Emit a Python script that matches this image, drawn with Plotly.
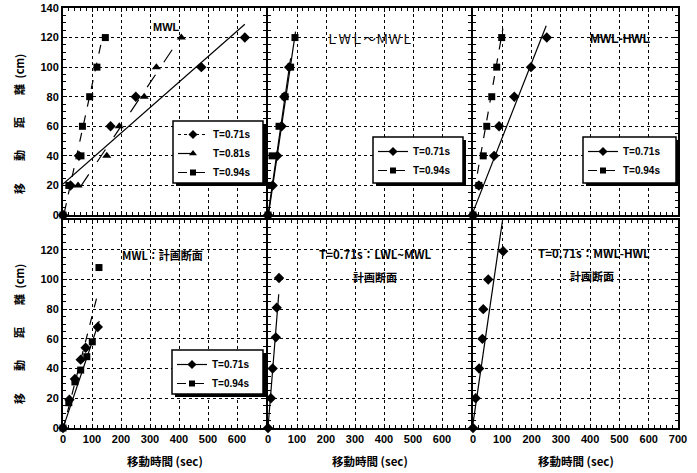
import plotly.graph_objects as go

# ---------------- data ----------------
# Panel 1 : MWL
p1_t071_x = [0, 26, 55, 164, 251, 477, 627]
p1_t071_y = [0, 20, 40, 60, 80, 100, 120]
p1_t081_x = [0, 52, 151, 194, 280, 322, 408]
p1_t081_y = [0, 20, 40, 60, 80, 100, 120]
p1_t094_x = [0, 20, 62, 67, 92, 117, 146]
p1_t094_y = [0, 20, 40, 60, 80, 100, 120]
p1_fit071_x, p1_fit071_y = [0, 627], [21, 129]
p1_fit081_x, p1_fit081_y = [60, 408], [19, 121]
p1_fit094_x, p1_fit094_y = [5, 138], [2, 122]

# Panel 2 : LWL~MWL
p2_t071_x = [0, 16, 32, 47, 56, 73]
p2_t071_y = [0, 20, 40, 60, 80, 100]
p2_t094_x = [0, 6, 14, 38, 59, 78, 93]
p2_t094_y = [0, 20, 40, 60, 80, 100, 120]
p2_fit071_x, p2_fit071_y = [0, 78], [0, 106]
p2_fit094_x, p2_fit094_y = [0, 95], [-2, 124]

# Panel 3 : MWL-HWL
p3_t071_x = [0, 20, 72, 89, 141, 198, 252]
p3_t071_y = [0, 20, 40, 60, 80, 100, 120]
p3_t094_x = [0, 20, 35, 47, 64, 81, 98]
p3_t094_y = [0, 20, 40, 60, 80, 100, 120]
p3_fit071_x, p3_fit071_y = [0, 250], [2, 128]
p3_fit094_x, p3_fit094_y = [15, 102], [28, 126]

# Panel 4 : MWL 計画断面
p4_t071_x = [0, 22, 41, 61, 78, 120]
p4_t071_y = [0, 19, 33, 46, 54, 68]
p4_t094_x = [0, 20, 41, 61, 82, 101, 124]
p4_t094_y = [0, 17, 31, 39, 48, 58, 108]
p4_fit071_x, p4_fit071_y = [0, 125], [0, 72]
p4_fit094_x, p4_fit094_y = [0, 122], [-1, 92]

# Panel 5 : T=0.71s LWL~MWL 計画断面
p5_t071_x = [0, 10, 16, 27, 30, 38]
p5_t071_y = [0, 20, 40, 61, 81, 101]
p5_fit071_x, p5_fit071_y = [0, 37], [0, 90]

# Panel 6 : T=0.71s MWL-HWL 計画断面
p6_t071_x = [0, 9, 21, 32, 35, 52, 103]
p6_t071_y = [0, 20, 40, 60, 80, 100, 119]
p6_fit071_x, p6_fit071_y = [0, 101], [3, 140]

x_ticks_a = [0, 100, 200, 300, 400, 500, 600]
x_ticks_b = [0, 100, 200, 300, 400, 500, 600, 700]
y_ticks_top = [0, 20, 40, 60, 80, 100, 120, 140]
y_ticks_bot = [0, 20, 40, 60, 80, 100, 120]

# ---------------- layout helpers ----------------
W, H = 697, 473
L, R, T, B = 63, 19, 8, 45
PW, PH = W - L - R, H - T - B


def px(xp):
    return (xp - L) / PW


def py(yp):
    return (H - B - yp) / PH


cols = [(63, 266), (268, 471), (473, 678)]
rows = [(8, 215), (220, 428)]

FONT = "Liberation Sans"
JFONT = "Noto Sans CJK JP"

fig = go.Figure()

S071 = "diamond"
S081 = "triangle-up"
S094 = "square"


def add_pts(i, x, y, sym, size):
    fig.add_trace(go.Scatter(x=x, y=y, mode="markers", xaxis=f"x{i}", yaxis=f"y{i}",
                             marker=dict(symbol=sym, size=size, color="black"),
                             cliponaxis=False, showlegend=False, hoverinfo="skip"))


def add_fit(i, x, y, dash):
    fig.add_trace(go.Scatter(x=x, y=y, mode="lines", xaxis=f"x{i}", yaxis=f"y{i}",
                             line=dict(color="black", width=1.2, dash=dash),
                             showlegend=False, hoverinfo="skip"))


def add_leg(i, name, sym, size, dash, legend):
    fig.add_trace(go.Scatter(x=[None], y=[None], mode="lines+markers", xaxis=f"x{i}", yaxis=f"y{i}",
                             name=name, legend=legend,
                             marker=dict(symbol=sym, size=size, color="black"),
                             line=dict(color="black", width=1.2, dash=dash)))


# panel 1
add_fit(1, p1_fit071_x, p1_fit071_y, "solid")
add_fit(1, p1_fit081_x, p1_fit081_y, "longdash")
add_fit(1, p1_fit094_x, p1_fit094_y, "dash")
add_pts(1, p1_t071_x, p1_t071_y, S071, 8)
add_pts(1, p1_t081_x, p1_t081_y, S081, 8)
add_pts(1, p1_t094_x, p1_t094_y, S094, 7)
add_leg(1, "T=0.71s", S071, 7, "dot", "legend")
add_leg(1, "T=0.81s", S081, 7, "longdash", "legend")
add_leg(1, "T=0.94s", S094, 6, "dash", "legend")

# panel 2
add_fit(2, p2_fit071_x, p2_fit071_y, "solid")
add_fit(2, p2_fit094_x, p2_fit094_y, "solid")
add_pts(2, p2_t071_x, p2_t071_y, S071, 8)
add_pts(2, p2_t094_x, p2_t094_y, S094, 7)
add_leg(2, "T=0.71s", S071, 7, "solid", "legend2")
add_leg(2, "T=0.94s", S094, 6, "dash", "legend2")

# panel 3
add_fit(3, p3_fit071_x, p3_fit071_y, "solid")
add_fit(3, p3_fit094_x, p3_fit094_y, "dash")
add_pts(3, p3_t071_x, p3_t071_y, S071, 8)
add_pts(3, p3_t094_x, p3_t094_y, S094, 7)
add_leg(3, "T=0.71s", S071, 7, "solid", "legend3")
add_leg(3, "T=0.94s", S094, 6, "dash", "legend3")

# panel 4
add_fit(4, p4_fit071_x, p4_fit071_y, "solid")
add_fit(4, p4_fit094_x, p4_fit094_y, "dash")
add_pts(4, p4_t071_x, p4_t071_y, S071, 8)
add_pts(4, p4_t094_x, p4_t094_y, S094, 7)
add_leg(4, "T=0.71s", S071, 7, "solid", "legend4")
add_leg(4, "T=0.94s", S094, 6, "dash", "legend4")

# panel 5
add_fit(5, p5_fit071_x, p5_fit071_y, "solid")
add_pts(5, p5_t071_x, p5_t071_y, S071, 8)

# panel 6
add_fit(6, p6_fit071_x, p6_fit071_y, "solid")
add_pts(6, p6_t071_x, p6_t071_y, S071, 8)

axes = {}
tickfont = dict(family=FONT, size=11, color="black", weight="bold")
for r in range(2):
    for c in range(3):
        i = r * 3 + c + 1
        xd = [px(cols[c][0]), px(cols[c][1])]
        yd = [py(rows[r][1]), py(rows[r][0])]
        xt = x_ticks_b if c == 2 else x_ticks_a
        yt = y_ticks_top if r == 0 else y_ticks_bot
        sfx = "" if i == 1 else str(i)
        axes[f"xaxis{sfx}"] = dict(
            domain=xd, range=[0, 700], anchor=f"y{sfx}",
            tickvals=xt, showticklabels=(r == 1), tickfont=tickfont,
            showgrid=True, gridcolor="black", griddash="dot", gridwidth=1,
            showline=True, linecolor="black", linewidth=2, mirror="allticks",
            ticks="inside", ticklen=4, tickcolor="black", zeroline=False,
            minor=dict(dtick=20, ticks="inside", ticklen=3, tickcolor="black", showgrid=False),
            fixedrange=True)
        axes[f"yaxis{sfx}"] = dict(
            domain=yd, range=[0, 140], anchor=f"x{sfx}",
            tickvals=yt, showticklabels=(c == 0), tickfont=tickfont,
            showgrid=True, gridcolor="black", griddash="dot", gridwidth=1,
            showline=True, linecolor="black", linewidth=2, mirror="allticks",
            ticks="inside", ticklen=4, tickcolor="black", zeroline=False,
            minor=dict(dtick=5, ticks="inside", ticklen=3, tickcolor="black", showgrid=False),
            fixedrange=True)

legfont = dict(family=FONT, size=10, color="black", weight="bold")

# legend boxes (x0, y0, x1, y1) in pixels, and first-item centre y
legend_boxes = [(173, 121, 263, 183, 132), (373, 137, 463, 183, 149),
                (583, 137, 676, 183, 149), (172, 350, 263, 394, 362)]
LEG_OFF = 12


def leg(b):
    return dict(x=px(b[0]), y=py(b[4] - LEG_OFF), xanchor="left", yanchor="top",
                bgcolor="rgba(0,0,0,0)", borderwidth=0, font=legfont, itemwidth=30,
                tracegroupgap=0)


shapes = []
for (x0, y0, x1, y1, _) in legend_boxes:
    shapes.append(dict(type="rect", xref="paper", yref="paper",
                       x0=px(x0 + 3), x1=px(x1 + 3), y0=py(y1 + 3), y1=py(y0 + 3),
                       fillcolor="black", line=dict(width=0), layer="above"))
    shapes.append(dict(type="rect", xref="paper", yref="paper",
                       x0=px(x0), x1=px(x1), y0=py(y1), y1=py(y0),
                       fillcolor="white", line=dict(width=1.5, color="black"), layer="above"))

ann = []


def text(x, y, s, size=11, family=FONT, bold=True, angle=0):
    ann.append(dict(x=px(x), y=py(y), xref="paper", yref="paper", text=s, showarrow=False,
                    textangle=angle, xanchor="center", yanchor="middle",
                    font=dict(family=family, size=size, color="black",
                              weight="bold" if bold else "normal")))


text(166, 27, "MWL", 11)
text(370, 39, "ＬＷＬ～ＭＷＬ", 12.5, JFONT, bold=False)
text(620, 39, "MWL-HWL", 12)
text(162, 255, "MWL：計画断面", 11, JFONT)
text(375, 254, "T=0.71s：LWL~MWL", 11.5, JFONT)
text(375, 277, "計画断面", 11, JFONT)
text(594, 253, "T=0.71s：MWL-HWL", 11.5, JFONT)
text(592, 276, "計画断面", 11, JFONT)
ylab = "移\u3000\u2003動\u3000\u2003距\u3000\u2003離\u2002(cm)"
text(19, 124, ylab, 11, JFONT, angle=-90)
text(19, 334, ylab, 11, JFONT, angle=-90)
for c in cols:
    text((c[0] + c[1]) / 2, 461, "移動時間 (sec)", 11.5, JFONT)

fig.update_layout(
    width=W, height=H, margin=dict(l=L, r=R, t=T, b=B, autoexpand=False),
    paper_bgcolor="white", plot_bgcolor="white",
    legend=leg(legend_boxes[0]),
    legend2=leg(legend_boxes[1]),
    legend3=leg(legend_boxes[2]),
    legend4=leg(legend_boxes[3]),
    shapes=shapes, annotations=ann,
    **axes,
)

fig.write_html("out.html", config={"displayModeBar": False},
               post_script="document.body.style.margin='0px';")
